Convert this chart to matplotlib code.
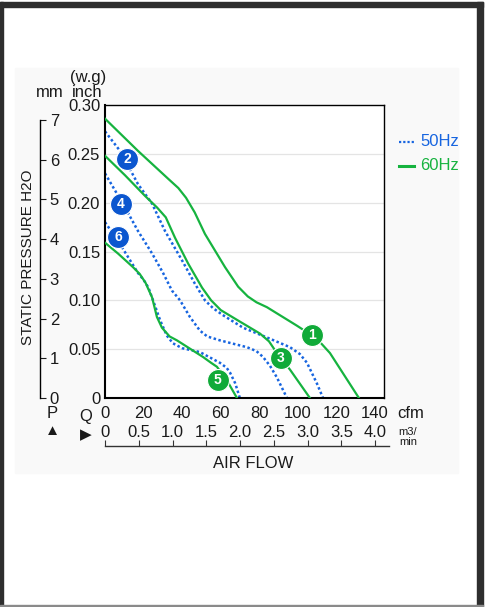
import matplotlib
matplotlib.use("Agg")
import matplotlib.pyplot as plt
from matplotlib.patches import Rectangle
from matplotlib.lines import Line2D

plt.rcParams['font.family'] = ['Liberation Sans', 'DejaVu Sans']

# air flow (cfm) / static pressure (inch H2O)
c1_x = [0, 17.1, 33.0, 38.0, 42.0, 46.5, 51.8, 62.2, 69.0, 74.0, 78.5, 83.9, 99.5, 107.3, 112.0, 116.6, 131.6]
c1_y = [0.286, 0.253, 0.224, 0.215, 0.205, 0.190, 0.168, 0.134, 0.114, 0.104, 0.098, 0.093, 0.074, 0.064, 0.056, 0.046, 0]
c2_x = [0, 7.8, 17.1, 24.4, 31.1, 39.9, 46.6, 51.8, 56.0, 61.0, 71.5, 83.9, 95.9, 101.0, 104.7, 109.8, 113.0]
c2_y = [0.273, 0.253, 0.219, 0.199, 0.171, 0.141, 0.117, 0.100, 0.092, 0.085, 0.072, 0.062, 0.052, 0.045, 0.036, 0.015, 0]
c3_x = [0, 10.4, 20.7, 27.0, 31.5, 36.3, 43.0, 50.3, 55.0, 60.0, 68.4, 80.3, 85.0, 89.1, 95.9, 106.2]
c3_y = [0.248, 0.228, 0.207, 0.195, 0.185, 0.164, 0.138, 0.113, 0.100, 0.090, 0.080, 0.066, 0.058, 0.046, 0.029, 0]
c4_x = [0, 10.4, 17.1, 24.4, 30.1, 34.7, 38.9, 44.0, 49.2, 53.0, 59.6, 73.6, 78.5, 81.9, 85.5, 89.1, 94.3]
c4_y = [0.230, 0.195, 0.171, 0.148, 0.128, 0.110, 0.100, 0.083, 0.069, 0.063, 0.059, 0.052, 0.048, 0.042, 0.033, 0.021, 0]
c5_x = [0, 6.7, 14.5, 18.0, 21.0, 24.4, 26.9, 29.5, 33.5, 37.3, 50.8, 55.0, 58.0, 63.2, 68.4]
c5_y = [0.159, 0.148, 0.134, 0.127, 0.118, 0.103, 0.083, 0.072, 0.063, 0.059, 0.042, 0.036, 0.032, 0.018, 0]
c6_x = [0, 6.7, 13.0, 17.1, 20.0, 22.5, 24.9, 28.5, 32.0, 35.2, 40.0, 49.2, 59.6, 63.0, 64.8, 67.5, 69.9]
c6_y = [0.180, 0.161, 0.141, 0.128, 0.121, 0.113, 0.100, 0.080, 0.064, 0.056, 0.051, 0.047, 0.036, 0.031, 0.026, 0.015, 0]

badge_num = ['1', '2', '3', '4', '5', '6']
badge_x = [107.3, 11.4, 91.2, 8.3, 58.5, 6.7]
badge_y = [0.064, 0.245, 0.041, 0.199, 0.018, 0.165]

inch_ticks = [0, 0.05, 0.10, 0.15, 0.20, 0.25, 0.30]
mm_ticks = [0, 1, 2, 3, 4, 5, 6, 7]
cfm_ticks = [0, 20, 40, 60, 80, 100, 120, 140]
m3_ticks = [0, 0.5, 1.0, 1.5, 2.0, 2.5, 3.0, 3.5, 4.0]

blue = '#1765e0'
green = '#16b33f'
blue_b = '#0b56cf'
green_b = '#10aa38'

W, H = 487, 607
fig = plt.figure(figsize=(W / 100, H / 100), dpi=100, facecolor='white')

def fx(px):
    return px / W

def fy(py):
    return 1 - py / H

# page frame and grey panel (behind the axes)
fig.patches.append(Rectangle((fx(15), fy(473)), fx(458) - fx(15), fy(68) - fy(473),
                             transform=fig.transFigure, color='#f9f9f9', zorder=-5))
fig.patches.append(Rectangle((0, fy(7)), fx(483), fy(2) - fy(7),
                             transform=fig.transFigure, color='#2e2e2e', zorder=-5))
fig.patches.append(Rectangle((0, fy(606)), fx(3), fy(2) - fy(606),
                             transform=fig.transFigure, color='#2e2e2e', zorder=-5))
fig.patches.append(Rectangle((fx(477), fy(606)), fx(483) - fx(477), fy(2) - fy(606),
                             transform=fig.transFigure, color='#2e2e2e', zorder=-5))
fig.patches.append(Rectangle((0, fy(607)), fx(483), fy(605) - fy(607),
                             transform=fig.transFigure, color='#8a8a8a', zorder=-5))

# main axes
ax = fig.add_axes([fx(105), fy(398), fx(384) - fx(105), fy(105) - fy(398)])
ax.set_facecolor('white')
ax.set_xlim(0, 144.6)
ax.set_ylim(0, 0.299)
for y in inch_ticks[1:-1]:
    ax.axhline(y, color='#e4e4e4', lw=0.9, zorder=1)

ax.plot(c2_x, c2_y, color=blue, lw=1.8, ls=(0, (1, 1)), zorder=2)
ax.plot(c4_x, c4_y, color=blue, lw=1.8, ls=(0, (1, 1)), zorder=2)
ax.plot(c6_x, c6_y, color=blue, lw=1.8, ls=(0, (1, 1)), zorder=2)
ax.plot(c1_x, c1_y, color=green, lw=1.6, zorder=3)
ax.plot(c3_x, c3_y, color=green, lw=1.6, zorder=3)
ax.plot(c5_x, c5_y, color=green, lw=1.6, zorder=3)

for n, bx, by in zip(badge_num, badge_x, badge_y):
    col = green_b if int(n) % 2 else blue_b
    ax.scatter([bx], [by], s=250, color=col, edgecolors='white', linewidths=0.8, zorder=5)
    ax.text(bx, by, n, color='white', fontsize=10, fontweight='bold',
            ha='center', va='center', zorder=6)

ax.set_yticks(inch_ticks)
ax.set_yticklabels(['0' if v == 0 else '%.2f' % v for v in inch_ticks])
ax.set_xticks(cfm_ticks)
ax.set_xticklabels([str(v) for v in cfm_ticks])
ax.tick_params(axis='both', length=0, labelsize=12, colors='#1a1a1a')
ax.tick_params(axis='y', pad=3.5)
ax.tick_params(axis='x', pad=6)
ax.spines['left'].set_linewidth(1.5)
ax.spines['bottom'].set_linewidth(1.5)
ax.spines['top'].set_linewidth(1.0)
ax.spines['right'].set_linewidth(1.0)

# m3/min row under the cfm row
for v in m3_ticks:
    lab = '0' if v == 0 else '%.1f' % v
    ax.annotate(lab, xy=(v * 35, 0), xycoords=('data', 'axes fraction'),
                xytext=(0, -24.5), textcoords='offset points',
                ha='center', va='center', fontsize=12, color='#1a1a1a')

# ruler under the air flow scale
rax = fig.add_axes([fx(105), fy(446), fx(389) - fx(105), 0.005])
rax.set_xlim(0, 147.2)
rax.patch.set_alpha(0)
for s in ['top', 'left', 'right']:
    rax.spines[s].set_visible(False)
rax.spines['bottom'].set_linewidth(1.0)
rax.spines['bottom'].set_color('#333333')
rax.set_yticks([])
rax.set_xticks([v * 35 for v in m3_ticks])
rax.tick_params(axis='x', direction='in', length=4, labelbottom=False, color='#333333')

# mm scale on the far left
max_ = fig.add_axes([fx(30), fy(398), fx(40) - fx(30), fy(105) - fy(398)])
max_.set_ylim(0, 7.38)
max_.patch.set_alpha(0)
for s in ['top', 'left', 'bottom']:
    max_.spines[s].set_visible(False)
max_.spines['right'].set_bounds(0, 7)
max_.spines['right'].set_linewidth(1.0)
max_.set_xticks([])
max_.yaxis.tick_right()
max_.set_yticks(mm_ticks)
max_.set_yticklabels([str(v) for v in mm_ticks])
max_.tick_params(axis='y', direction='out', length=4, pad=3, labelsize=12, colors='#1a1a1a')

# text around the chart
tc = '#1a1a1a'
fig.text(fx(50), fy(97), 'mm', ha='center', va='baseline', fontsize=12, color=tc)
fig.text(fx(88), fy(82), '(w.g)', ha='center', va='baseline', fontsize=12, color=tc)
fig.text(fx(87), fy(97), 'inch', ha='center', va='baseline', fontsize=12, color=tc)
fig.text(fx(28), fy(257), 'STATIC PRESSURE H2O', rotation=90, ha='center', va='center',
         fontsize=11, color=tc)
fig.text(fx(52), fy(414), 'P', ha='center', va='center', fontsize=12, color=tc)
fig.text(fx(52), fy(431), '▲', ha='center', va='center', fontsize=11, color=tc)
fig.text(fx(86), fy(417), 'Q', ha='center', va='center', fontsize=12, color=tc)
fig.text(fx(86), fy(435), '▶', ha='center', va='center', fontsize=11, color=tc)
fig.text(fx(397), fy(413), 'cfm', ha='left', va='center', fontsize=12, color=tc)
fig.text(fx(408), fy(432), 'm3/', ha='center', va='center', fontsize=8, color=tc)
fig.text(fx(408), fy(442), 'min', ha='center', va='center', fontsize=8, color=tc)
fig.text(fx(253), fy(463), 'AIR FLOW', ha='center', va='center', fontsize=12, color=tc)

# legend
fig.lines.append(Line2D([fx(399), fx(414)], [fy(142), fy(142)], transform=fig.transFigure,
                        color=blue, lw=1.6, ls=(0, (1, 0.9))))
fig.lines.append(Line2D([fx(399), fx(414)], [fy(166), fy(166)], transform=fig.transFigure,
                        color=green, lw=2.2))
fig.text(fx(420), fy(142), '50Hz', ha='left', va='center', fontsize=12, color=blue)
fig.text(fx(420), fy(166), '60Hz', ha='left', va='center', fontsize=12, color=green)

fig.savefig('out.png', dpi=100)
